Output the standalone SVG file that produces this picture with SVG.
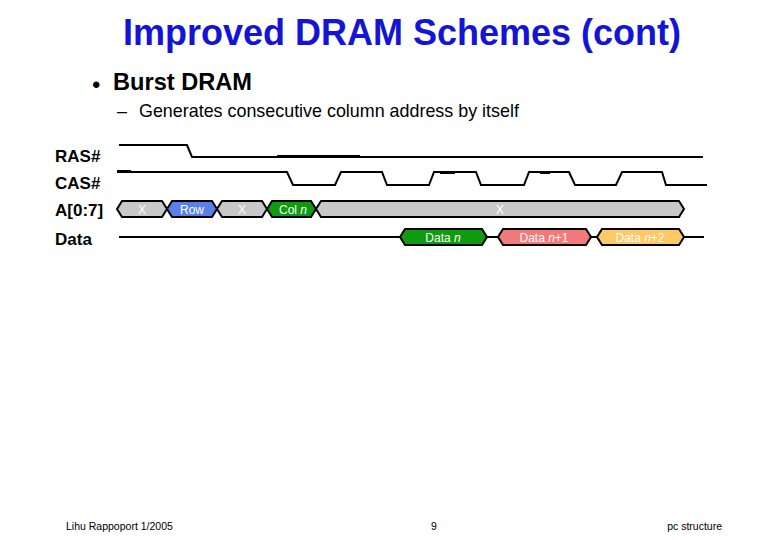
<svg xmlns="http://www.w3.org/2000/svg" width="780" height="540" viewBox="0 0 780 540">
<style>
text{font-family:"Liberation Sans",Arial,sans-serif}
.title{font-size:36px;font-weight:bold;fill:#1414D6}
.lbl{font-size:17px;font-weight:bold;fill:#000}
.wave{fill:none;stroke:#000;stroke-width:2;stroke-linejoin:miter}
.thick{fill:none;stroke:#000;stroke-width:3}
.cell{stroke:#000;stroke-width:2;stroke-linejoin:miter}
.bt{font-size:12px;fill:#fff;text-anchor:middle}
.gray{fill:#C8C8C8}
.blue{fill:#5B7FE8}
.green{fill:#0F9A0F}
.red{fill:#F27A7A}
.orange{fill:#FFC966}
.foot{font-size:10.5px;fill:#000}
</style>
<rect width="780" height="540" fill="#fff"/>
<text class="title" x="402" y="45" text-anchor="middle">Improved DRAM Schemes (cont)</text>
<text x="92" y="92.5" style="font-size:24px;fill:#000">•</text>
<text x="113" y="90" style="font-size:23.6px;font-weight:bold;fill:#000">Burst DRAM</text>
<text x="117" y="117" style="font-size:18px;fill:#000">–</text>
<text x="139" y="117" style="font-size:17.9px;fill:#000">Generates consecutive column address by itself</text>

<text class="lbl" x="55" y="162">RAS#</text>
<text class="lbl" x="55" y="189">CAS#</text>
<text class="lbl" x="55" y="216">A[0:7]</text>
<text class="lbl" x="55" y="245">Data</text>

<g id="signals">
<polyline class="wave" points="119,145 187,145 192,157 703,157"/>
<line class="thick" x1="277" y1="156.5" x2="360" y2="156.5"/>
<polyline class="wave" points="117,172 287,172 293,185 335,185 341,172 382,172 387,185 429,185 434,172 476,172 481,185 524,185 529,172 569,172 575,185 616,185 622,172 662,172 666,185 707,185"/>
<line class="thick" x1="117" y1="171.5" x2="131" y2="171.5"/>
<line class="thick" x1="440" y1="172.5" x2="455" y2="172.5"/>
<line class="thick" x1="540" y1="172.5" x2="550" y2="172.5"/>
<polyline class="wave" points="119,237 400,237"/>
<polyline class="wave" points="487,237 498,237"/>
<polyline class="wave" points="591,237 597,237"/>
<polyline class="wave" points="684,237 704,237"/>
</g>

<g id="a-x1"><polygon class="cell gray" points="117,209 122,201 162,201 167,209 162,217 122,217"/><text class="bt" x="142" y="214">X</text></g>
<g id="a-row"><polygon class="cell blue" points="167,209 172,201 212,201 217,209 212,217 172,217"/><text class="bt" x="192" y="214">Row</text></g>
<g id="a-x2"><polygon class="cell gray" points="217,209 222,201 262,201 267,209 262,217 222,217"/><text class="bt" x="242" y="214">X</text></g>
<g id="a-col"><polygon class="cell green" points="267,209 272,201 311,201 316,209 311,217 272,217"/><text class="bt" x="293" y="214">Col <tspan font-style="italic">n</tspan></text></g>
<g id="a-x3"><polygon class="cell gray" points="316,209 321,201 679,201 684,209 679,217 321,217"/><text class="bt" x="500" y="214">X</text></g>

<g id="d-n"><polygon class="cell green" points="400,237 405,229 482,229 487,237 482,245 405,245"/><text class="bt" x="443" y="242">Data <tspan font-style="italic">n</tspan></text></g>
<g id="d-n1"><polygon class="cell red" points="498,237 503,229 586,229 591,237 586,245 503,245"/><text class="bt" x="544" y="242">Data <tspan font-style="italic">n</tspan>+1</text></g>
<g id="d-n2"><polygon class="cell orange" points="597,237 602,229 679,229 684,237 679,245 602,245"/><text class="bt" x="640" y="242">Data <tspan font-style="italic">n</tspan>+2</text></g>

<text class="foot" x="66" y="530">Lihu Rappoport 1/2005</text>
<text class="foot" x="434" y="530" text-anchor="middle">9</text>
<text class="foot" x="722" y="530" text-anchor="end">pc structure</text>
</svg>
